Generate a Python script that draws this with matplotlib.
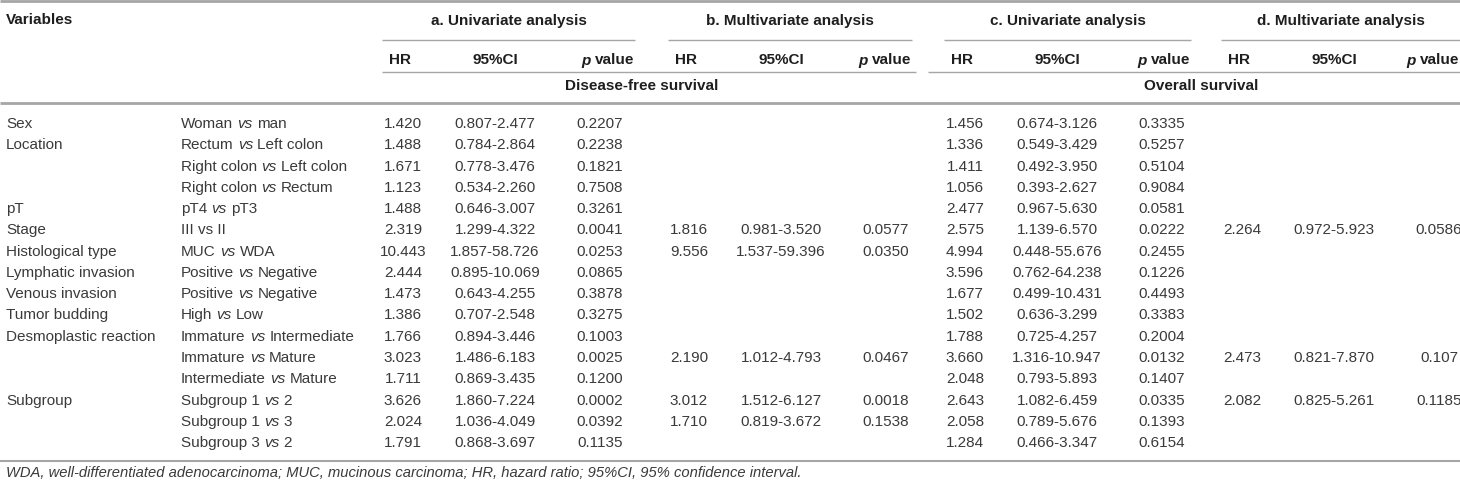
import matplotlib
matplotlib.use('Agg')
import matplotlib.pyplot as plt

# ---- table content -------------------------------------------------------
variables = ['Sex', 'Location', '', '', 'pT', 'Stage', 'Histological type',
             'Lymphatic invasion', 'Venous invasion', 'Tumor budding',
             'Desmoplastic reaction', '', '', 'Subgroup', '', '']
# parts between underscores are set in italics
comparisons = ['Woman _vs_ man', 'Rectum _vs_ Left colon',
               'Right colon _vs_ Left colon', 'Right colon _vs_ Rectum',
               'pT4 _vs_ pT3', 'III vs II', 'MUC _vs_ WDA',
               'Positive _vs_ Negative', 'Positive _vs_ Negative',
               'High _vs_ Low', 'Immature _vs_ Intermediate',
               'Immature _vs_ Mature', 'Intermediate _vs_ Mature',
               'Subgroup 1 _vs_ 2', 'Subgroup 1 _vs_ 3', 'Subgroup 3 _vs_ 2']

dfs_uni_hr = ['1.420', '1.488', '1.671', '1.123', '1.488', '2.319', '10.443', '2.444',
              '1.473', '1.386', '1.766', '3.023', '1.711', '3.626', '2.024', '1.791']
dfs_uni_ci = ['0.807-2.477', '0.784-2.864', '0.778-3.476', '0.534-2.260', '0.646-3.007',
              '1.299-4.322', '1.857-58.726', '0.895-10.069', '0.643-4.255', '0.707-2.548',
              '0.894-3.446', '1.486-6.183', '0.869-3.435', '1.860-7.224', '1.036-4.049',
              '0.868-3.697']
dfs_uni_p = ['0.2207', '0.2238', '0.1821', '0.7508', '0.3261', '0.0041', '0.0253', '0.0865',
             '0.3878', '0.3275', '0.1003', '0.0025', '0.1200', '0.0002', '0.0392', '0.1135']

dfs_multi_hr = ['', '', '', '', '', '1.816', '9.556', '', '', '', '', '2.190', '', '3.012', '1.710', '']
dfs_multi_ci = ['', '', '', '', '', '0.981-3.520', '1.537-59.396', '', '', '', '',
                '1.012-4.793', '', '1.512-6.127', '0.819-3.672', '']
dfs_multi_p = ['', '', '', '', '', '0.0577', '0.0350', '', '', '', '', '0.0467', '', '0.0018', '0.1538', '']

os_uni_hr = ['1.456', '1.336', '1.411', '1.056', '2.477', '2.575', '4.994', '3.596',
             '1.677', '1.502', '1.788', '3.660', '2.048', '2.643', '2.058', '1.284']
os_uni_ci = ['0.674-3.126', '0.549-3.429', '0.492-3.950', '0.393-2.627', '0.967-5.630',
             '1.139-6.570', '0.448-55.676', '0.762-64.238', '0.499-10.431', '0.636-3.299',
             '0.725-4.257', '1.316-10.947', '0.793-5.893', '1.082-6.459', '0.789-5.676',
             '0.466-3.347']
os_uni_p = ['0.3335', '0.5257', '0.5104', '0.9084', '0.0581', '0.0222', '0.2455', '0.1226',
            '0.4493', '0.3383', '0.2004', '0.0132', '0.1407', '0.0335', '0.1393', '0.6154']

os_multi_hr = ['', '', '', '', '', '2.264', '', '', '', '', '', '2.473', '', '2.082', '', '']
os_multi_ci = ['', '', '', '', '', '0.972-5.923', '', '', '', '', '', '0.821-7.870', '',
               '0.825-5.261', '', '']
os_multi_p = ['', '', '', '', '', '0.0586', '', '', '', '', '', '0.107', '', '0.1185', '', '']

group_titles = ['a. Univariate analysis', 'b. Multivariate analysis',
                'c. Univariate analysis', 'd. Multivariate analysis']
survival_titles = ['Disease-free survival', 'Overall survival']
footnote = ('WDA, well-differentiated adenocarcinoma; MUC, mucinous carcinoma; '
            'HR, hazard ratio; 95%CI, 95% confidence interval.')

groups = [(dfs_uni_hr, dfs_uni_ci, dfs_uni_p),
          (dfs_multi_hr, dfs_multi_ci, dfs_multi_p),
          (os_uni_hr, os_uni_ci, os_uni_p),
          (os_multi_hr, os_multi_ci, os_multi_p)]

# ---- layout (pixel space) ------------------------------------------------
W, H = 1460, 484
FONT = 'Liberation Sans'
FS = 11
BODY = '#3a3a3a'
HEAD = '#1e1e1e'
RULE = '#a6a6a6'

group_left = [382, 668, 944, 1221]
group_right = [635, 912, 1191, 1460]
hr_off, ci_off, p_off = 21, 113, 218
row_y0, row_dy = 124, 21.27

fig = plt.figure(figsize=(W / 100, H / 100), dpi=100)
ax = fig.add_axes([0, 0, 1, 1])
ax.set_xlim(0, W)
ax.set_ylim(H, 0)
ax.axis('off')
renderer = fig.canvas.get_renderer()


def text_width(s, **kw):
    t = ax.text(0, 0, s, fontfamily=FONT, fontsize=FS, **kw)
    w = t.get_window_extent(renderer).width
    t.remove()
    return w


def draw_runs(x, y, s, ha='left', color=BODY, weight='normal'):
    # draw a string where parts between '_' are italic
    sp = text_width('a a', fontweight=weight) - text_width('aa', fontweight=weight)
    parts = s.split('_')
    pieces = []
    for i, p in enumerate(parts):
        style = 'italic' if i % 2 else 'normal'
        lead = len(p) - len(p.lstrip(' '))
        trail = len(p) - len(p.rstrip(' '))
        core = p.strip(' ')
        w = text_width(core, fontstyle=style, fontweight=weight) if core else 0
        pieces.append((core, style, lead * sp, w, trail * sp))
    total = sum(a + b + c for _, _, a, b, c in pieces)
    cx = x - total if ha == 'right' else x
    for core, style, lead, w, trail in pieces:
        cx += lead
        if core:
            ax.text(cx, y, core, ha='left', va='center', fontfamily=FONT, fontsize=FS,
                    fontstyle=style, fontweight=weight, color=color)
        cx += w + trail


def hline(x0, x1, y, lw):
    ax.plot([x0, x1], [y, y], color=RULE, lw=lw, solid_capstyle='butt')


# rules
hline(0, W, 1.2, 2.0)
for gl, gr in zip(group_left, group_right):
    hline(gl, gr, 39.5, 1.0)
hline(group_left[0], 916, 72, 1.0)
hline(928, W, 72, 1.0)
hline(0, W, 103, 2.0)
hline(0, W, 461, 1.5)

# header
ax.text(6, 20.5, 'Variables', ha='left', va='center', fontfamily=FONT, fontsize=FS,
        fontweight='bold', color=HEAD)
for title, gl, gr in zip(group_titles, group_left, group_right):
    ax.text((gl + gr) / 2, 20.5, title, ha='center', va='center', fontfamily=FONT,
            fontsize=FS, fontweight='bold', color=HEAD)
    ax.text(gl + 7, 60.5, 'HR', ha='left', va='center', fontfamily=FONT, fontsize=FS,
            fontweight='bold', color=HEAD)
    ax.text(gl + ci_off, 60.5, '95%CI', ha='center', va='center', fontfamily=FONT,
            fontsize=FS, fontweight='bold', color=HEAD)
    draw_runs(gr - 1, 60.5, '_p_ value', ha='right', color=HEAD, weight='bold')
ax.text(642, 86.5, survival_titles[0], ha='center', va='center', fontfamily=FONT,
        fontsize=FS, fontweight='bold', color=HEAD)
ax.text(1201, 86.5, survival_titles[1], ha='center', va='center', fontfamily=FONT,
        fontsize=FS, fontweight='bold', color=HEAD)

# body
for i in range(len(comparisons)):
    y = row_y0 + i * row_dy
    if variables[i]:
        ax.text(6, y, variables[i], ha='left', va='center', fontfamily=FONT,
                fontsize=FS, color=BODY)
    draw_runs(181, y, comparisons[i])
    for (hr, ci, p), gl in zip(groups, group_left):
        for val, off in ((hr[i], hr_off), (ci[i], ci_off), (p[i], p_off)):
            if val:
                ax.text(gl + off, y, val, ha='center', va='center', fontfamily=FONT,
                        fontsize=FS, color=BODY)

ax.text(6, 473, footnote, ha='left', va='center', fontfamily=FONT, fontsize=10.65,
        fontstyle='italic', color=BODY)

fig.savefig('out.png', dpi=100)
